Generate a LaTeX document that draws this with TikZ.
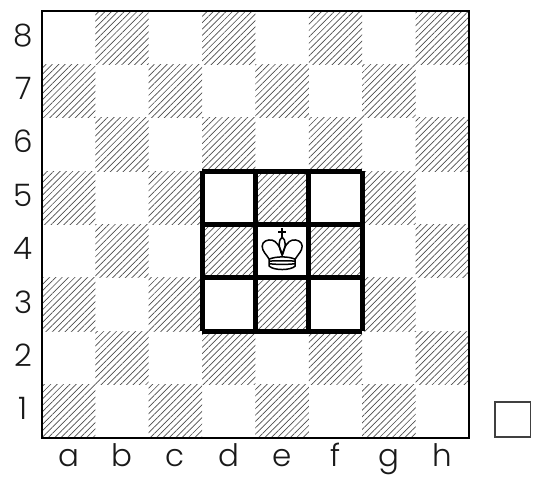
\documentclass[tikz,border=0pt]{standalone}
\usepackage{fontspec}
\setmainfont{Poppins Light}
\usetikzlibrary{patterns.meta}
\tikzset{
  hatched/.style={pattern={Lines[angle=45,distance=2.4pt,line width=0.36pt]},pattern color=black!70},
  boardlabel/.style={font=\fontsize{16.5}{16.5}\selectfont,text=black!90,anchor=base,inner sep=0pt},
  kingline/.style={line width=0.8pt,line join=round}
}
\begin{document}
\begin{tikzpicture}

  \useasboundingbox (-0.787,-0.899) rectangle (9.312,8.206);

  % dark squares
  \foreach \col in {0,...,7}
    \foreach \row in {0,...,7} {
      \pgfmathparse{int(mod(\col+\row,2))}
      \ifnum\pgfmathresult=0
        \path[hatched] (\col,\row) rectangle ++(1,1);
      \fi
    }

  \draw[line width=0.045cm] (0,0) rectangle (8,8);
  \draw[line width=0.095cm] (3,2) grid (6,5);

  % labels
  \foreach \col/\name in {0/a,1/b,2/c,3/d,4/e,5/f,6/g,7/h}
    \node[boardlabel] (file\name) at (\col+0.5,-0.53) {\name};
  \foreach \row in {1,...,8}
    \node[boardlabel] (rank\row) at (-0.35,\row-0.66) {\row};

  % king
  \begin{scope}[shift={(4.5,3.5)},x=0.01874cm,y=0.01874cm,kingline]
    \draw (0,14) -- (0,23);
    \draw (-4,19) -- (4,19);
    \draw (0,14) .. controls (-4,11) and (-4,5) .. (0,-4)
      .. controls (4,5) and (4,11) .. (0,14);
    \draw (-13,-8) .. controls (-16,-3) and (-20,0) .. (-20,5)
      .. controls (-20,10) and (-14,12) .. (-10,11)
      .. controls (-6,10) and (-2,5) .. (0,-4)
      .. controls (2,5) and (6,10) .. (10,11)
      .. controls (14,12) and (20,10) .. (20,5)
      .. controls (20,0) and (16,-3) .. (13,-8);
    \draw (-13,-8) .. controls (-6,-5) and (6,-5) .. (13,-8);
    \draw (-13,-8) -- (-13,-15) .. controls (-8,-19.5) and (8,-19.5) .. (13,-15) -- (13,-8);
    \draw (-13,-10) .. controls (-6,-9.5) and (6,-9.5) .. (13,-10);
    \draw (-13,-12.5) .. controls (-6,-13.5) and (6,-13.5) .. (13,-12.5);
  \end{scope}

  % spare square
  \draw[line width=0.03cm,black!75] (8.49,0.02) rectangle (9.15,0.67);

\end{tikzpicture}
\end{document}
